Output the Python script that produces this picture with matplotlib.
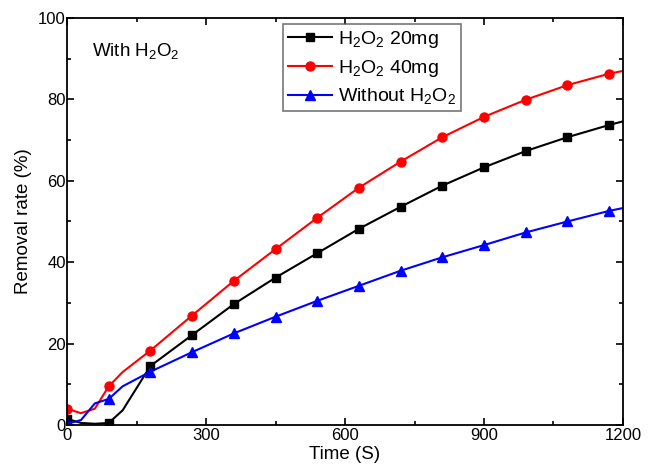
import matplotlib
matplotlib.use('Agg')
import matplotlib.pyplot as plt

plt.rcParams['font.family'] = 'Liberation Sans'
plt.rcParams['mathtext.fontset'] = 'custom'
plt.rcParams['mathtext.rm'] = 'Liberation Sans'
plt.rcParams['mathtext.it'] = 'Liberation Sans'

# tiempo (s) y porcentaje de remocion
t = [0, 30, 60, 90, 120, 180, 270, 360, 450, 540, 630, 720, 810, 900, 990, 1080, 1170, 1200]
h2o2_20 = [1.5, 0.5, 0.3, 0.5, 3.6, 14.5, 22.1, 29.7, 36.2, 42.2, 48.2, 53.6, 58.8, 63.3, 67.3, 70.7, 73.7, 74.6]
h2o2_40 = [4.0, 2.9, 4.0, 9.5, 13.0, 18.3, 26.9, 35.4, 43.2, 50.9, 58.3, 64.7, 70.7, 75.7, 79.9, 83.5, 86.3, 87.0]
sin_h2o2 = [0.3, 1.2, 5.3, 6.4, 9.5, 13.1, 17.9, 22.5, 26.6, 30.5, 34.2, 37.9, 41.2, 44.2, 47.3, 50.0, 52.6, 53.3]
marcas = [0, 3, 5, 6, 7, 8, 9, 10, 11, 12, 13, 14, 15, 16]

fig = plt.figure(figsize=(6.52, 4.73), dpi=100)
ax = fig.add_axes([0.1028, 0.1015, 0.8527, 0.8605])

ax.plot(t, h2o2_20, color='black', marker='s', markersize=6, lw=1.5, markevery=marcas, label=r'H$_2$O$_2$ 20mg')
ax.plot(t, h2o2_40, color='red', marker='o', markersize=6.5, lw=1.5, markevery=marcas, label=r'H$_2$O$_2$ 40mg')
ax.plot(t, sin_h2o2, color='blue', marker='^', markersize=7, lw=1.5, markevery=marcas, label=r'Without H$_2$O$_2$')

ax.axis([0, 1200, 0, 100])
ax.set_xticks([0, 300, 600, 900, 1200])
ax.set_xticks([150, 450, 750, 1050], minor=True)
ax.set_yticks([0, 20, 40, 60, 80, 100])
ax.set_yticks([10, 30, 50, 70, 90], minor=True)
ax.tick_params(which='both', direction='in', top=True, right=True, labelsize=12, width=1.2)
ax.tick_params(which='major', length=5)
ax.tick_params(which='minor', length=3)
ax.tick_params(axis='x', pad=2)
ax.tick_params(axis='y', pad=1)
for s in ax.spines.values():
    s.set_linewidth(1.3)

ax.set_xlabel('Time (S)', fontsize=13.5, labelpad=2)
ax.set_ylabel('Removal rate (%)', fontsize=13.5, labelpad=4)
ax.text(0.045, 0.92, r'With H$_2$O$_2$', transform=ax.transAxes, fontsize=13.5, va='center')

leg = ax.legend(loc='upper left', bbox_to_anchor=(0.388, 0.985), fontsize=14, frameon=True,
                fancybox=False, edgecolor='#555555', handlelength=2.3, handletextpad=0.3,
                borderpad=0.25, labelspacing=0.4, borderaxespad=0)
leg.get_frame().set_linewidth(1.2)

fig.savefig('out.png', dpi=100)
